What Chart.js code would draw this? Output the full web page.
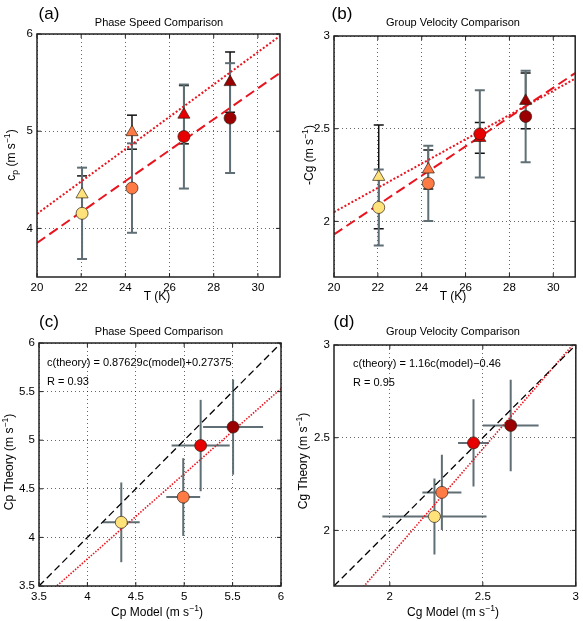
<!DOCTYPE html>
<html>
<head>
<meta charset="utf-8">
<script src="https://cdn.jsdelivr.net/npm/chart.js@4.4.1/dist/chart.umd.min.js"></script>
<style>
  body { margin: 0; background: #fff; }
  #wrap { position: relative; width: 583px; height: 621px; }
  canvas { position: absolute; }
</style>
</head>
<body>
<div id="wrap">
  <canvas id="pa" width="291" height="310" style="left:0;top:0"></canvas>
  <canvas id="pb" width="292" height="310" style="left:291px;top:0"></canvas>
  <canvas id="pc" width="291" height="311" style="left:0;top:310px"></canvas>
  <canvas id="pd" width="292" height="311" style="left:291px;top:310px"></canvas>
</div>
<script>
// temperatures of the four runs
const T = [22.04, 24.3, 26.65, 28.74];
const runColors = ["#FFE27A", "#FF7B45", "#E60000", "#9B0000"];

// phase speed
const cpTheory = [4.155, 4.415, 4.945, 5.135];
const cpTheoryErr = [0.47, 0.46, 0.535, 0.565];     // panel (a)
const cpTheoryErrC = [0.41, 0.40, 0.47, 0.49];      // panel (c)
const cpModel = [4.35, 4.99, 5.17, 5.505];
const cpModelErr = [0.19, 0.175, 0.30, 0.31];

// group velocity
const cgTheory = [2.075, 2.205, 2.472, 2.566];
const cgTheoryErr = [0.205, 0.203, 0.235, 0.247];
const cgModel = [2.24, 2.28, 2.45, 2.65];
const cgModelErr = [0.28, 0.105, 0.083, 0.15];

// curves vs T
const tCurve = [20, 31];
const cpTheoryCurve = [3.85, 5.60];
const cpModelCurve = [4.15, 5.98];
const cgTheoryCurve = [1.93, 2.80];
const cgModelCurve = [2.05, 2.77];

// one-to-one and fit lines
const oneC = [3.5, 6];
const fitCx = [3.5, 6];
const fitCy = [3.34, 5.53];
const oneD = [1.7, 3];
const fitDx = [1.7, 3];
const fitDy = [1.512, 3.02];

// tick labels
const tTicks = [20, 22, 24, 26, 28, 30];
const cpTicks = [4, 5, 6];
const cgTicks = [2, 2.5, 3];
const cTicks = [3.5, 4, 4.5, 5, 5.5, 6];
const dTicks = [2, 2.5, 3];

const FONT = '"Liberation Sans", Arial, Helvetica, sans-serif';
const GRAY = "#5f6f75";
const RED = "#E8141E";
const EDGE = "rgba(45,30,20,0.85)";

function pts(xs, ys) {
  return xs.map((x, i) => ({ x: x, y: ys[i] }));
}

function vbars(xs, ys, errs, color, width, cap, order) {
  return xs.map((x, i) => ({
    data: [{ x: x, y: ys[i] - errs[i] }, { x: x, y: ys[i] + errs[i] }],
    showLine: true, borderColor: color, borderWidth: width,
    pointStyle: "line", pointRadius: cap, pointBorderColor: color,
    pointBorderWidth: width, order: order
  }));
}

function hbars(xs, ys, errs, color, width, order) {
  return xs.map((x, i) => ({
    data: [{ x: x - errs[i], y: ys[i] }, { x: x + errs[i], y: ys[i] }],
    showLine: true, borderColor: color, borderWidth: width,
    pointRadius: 0, order: order
  }));
}

function markers(xs, ys, style, radius, order) {
  return {
    data: pts(xs, ys), pointStyle: style, pointRadius: radius,
    pointBackgroundColor: runColors, pointBorderColor: EDGE,
    pointBorderWidth: 0.8, showLine: false, order: order
  };
}

function line(xs, ys, color, width, dash, order) {
  return {
    data: pts(xs, ys), showLine: true, borderColor: color, borderWidth: width,
    borderDash: dash, pointRadius: 0, order: order
  };
}

function axis(min, max, ticks, size) {
  return {
    type: "linear", min: min, max: max,
    afterBuildTicks: s => { s.ticks = ticks.map(v => ({ value: v })); },
    afterFit: s => { if (s.isHorizontal()) s.height = size; else s.width = size; },
    ticks: {
      callback: v => String(v), color: "#000", padding: 4,
      font: { family: FONT, size: 11.5 }, maxRotation: 0, autoSkip: false
    },
    grid: { color: "rgba(0,0,0,0.6)", lineWidth: 1, drawTicks: false },
    border: { display: false, dash: [1, 3] }
  };
}

// box around the plot and inward ticks
const frame = {
  id: "frame",
  afterDatasetsDraw(chart) {
    const ctx = chart.ctx, a = chart.chartArea;
    const xs = chart.scales.x, ys = chart.scales.y;
    ctx.save();
    ctx.strokeStyle = "#222";
    ctx.lineWidth = 1;
    ctx.beginPath();
    xs.ticks.forEach(t => {
      const p = xs.getPixelForValue(t.value);
      ctx.moveTo(p, a.bottom); ctx.lineTo(p, a.bottom - 4);
      ctx.moveTo(p, a.top); ctx.lineTo(p, a.top + 4);
    });
    ys.ticks.forEach(t => {
      const p = ys.getPixelForValue(t.value);
      ctx.moveTo(a.left, p); ctx.lineTo(a.left + 4, p);
      ctx.moveTo(a.right, p); ctx.lineTo(a.right - 4, p);
    });
    ctx.stroke();
    ctx.lineWidth = 1.5;
    ctx.strokeRect(a.left, a.top, a.right - a.left, a.bottom - a.top);
    ctx.restore();
  }
};

function rich(ctx, parts, x, y, size, rotate, align) {
  ctx.save();
  ctx.translate(x, y);
  if (rotate) ctx.rotate(-Math.PI / 2);
  const fontFor = p => ((p.sub || p.sup) ? size * 0.72 : size) + "px " + FONT;
  let total = 0;
  parts.forEach(p => { ctx.font = fontFor(p); total += ctx.measureText(p.t).width; });
  let cx = align === "left" ? 0 : -total / 2;
  ctx.textAlign = "left";
  ctx.textBaseline = "middle";
  ctx.fillStyle = "#000";
  parts.forEach(p => {
    ctx.font = fontFor(p);
    const dy = p.sub ? size * 0.3 : (p.sup ? -size * 0.38 : 0);
    ctx.fillText(p.t, cx, dy);
    cx += ctx.measureText(p.t).width;
  });
  ctx.restore();
}

function texts(items) {
  return {
    id: "texts",
    afterDraw(chart) {
      items.forEach(it => rich(chart.ctx, it.parts, it.x, it.y, it.size, it.rot, it.align));
    }
  };
}

const unit = [{ t: " (m s" }, { t: "\u22121", sup: true }, { t: ")" }];

function make(id, pad, yw, xh, xAxis, yAxis, datasets, labels) {
  new Chart(document.getElementById(id), {
    type: "scatter",
    data: { datasets: datasets },
    options: {
      responsive: false, animation: false, events: [],
      layout: { padding: { left: 0, bottom: 0, top: pad.top, right: pad.right } },
      plugins: { legend: { display: false }, tooltip: { enabled: false } },
      scales: { x: axis(xAxis[0], xAxis[1], xAxis[2], xh), y: axis(yAxis[0], yAxis[1], yAxis[2], yw) }
    },
    plugins: [frame, texts(labels)]
  });
}

// (a) phase speed vs T
make("pa", { top: 34, right: 11 }, 37, 33, [20, 31, tTicks], [3.5, 6, cpTicks], [
  ...vbars(T, cpModel, cpModelErr, "#111", 1.5, 5, 4),
  ...vbars(T, cpTheory, cpTheoryErr, GRAY, 2, 5, 3),
  line(tCurve, cpTheoryCurve, RED, 2, [10, 5], 2),
  line(tCurve, cpModelCurve, RED, 2, [2, 2], 2),
  markers(T, cpModel, "triangle", 7, 1),
  markers(T, cpTheory, "circle", 6, 0)
], [
  { parts: [{ t: "(a)" }], x: 49, y: 14, size: 17 },
  { parts: [{ t: "Phase Speed Comparison" }], x: 159, y: 23, size: 11 },
  { parts: [{ t: "c" }, { t: "p", sub: true }, ...unit], x: 12, y: 155, size: 12, rot: true },
  { parts: [{ t: "T (K)" }], x: 157, y: 297, size: 12 }
]);

// (b) group velocity vs T
make("pb", { top: 36, right: 7 }, 43, 33, [20, 31, tTicks], [1.7, 3, cgTicks], [
  ...vbars(T, cgModel, cgModelErr, "#111", 1.5, 5, 4),
  ...vbars(T, cgTheory, cgTheoryErr, GRAY, 2, 5, 3),
  line(tCurve, cgTheoryCurve, RED, 2, [10, 5], 2),
  line(tCurve, cgModelCurve, RED, 2, [2, 2], 2),
  markers(T, cgModel, "triangle", 7, 1),
  markers(T, cgTheory, "circle", 6, 0)
], [
  { parts: [{ t: "(b)" }], x: 51, y: 14, size: 17 },
  { parts: [{ t: "Group Velocity Comparison" }], x: 162, y: 23, size: 11 },
  { parts: [{ t: "-Cg" }, ...unit], x: 19, y: 155, size: 12, rot: true },
  { parts: [{ t: "T (K)" }], x: 162, y: 297, size: 12 }
]);

// (c) phase speed theory vs model
make("pc", { top: 33, right: 10 }, 39, 35, [3.5, 6, cTicks], [3.5, 6, cTicks], [
  ...hbars(cpModel, cpTheory, cpModelErr, GRAY, 2, 3),
  ...vbars(cpModel, cpTheory, cpTheoryErrC, GRAY, 2, 0, 3),
  line(oneC, oneC, "#000", 1.3, [7, 4], 2),
  line(fitCx, fitCy, RED, 1.6, [1.5, 1.5], 2),
  markers(cpModel, cpTheory, "circle", 6, 0)
], [
  { parts: [{ t: "(c)" }], x: 49, y: 12, size: 17 },
  { parts: [{ t: "Phase Speed Comparison" }], x: 159, y: 22, size: 11 },
  { parts: [{ t: "Cp Theory" }, ...unit], x: 10, y: 152, size: 12, rot: true },
  { parts: [{ t: "Cp Model" }, ...unit], x: 157, y: 303, size: 12 },
  { parts: [{ t: "c(theory) = 0.87629c(model)+0.27375" }], x: 47, y: 53, size: 11, align: "left" },
  { parts: [{ t: "R = 0.93" }], x: 47, y: 72, size: 11, align: "left" }
]);

// (d) group velocity theory vs model
make("pd", { top: 35, right: 7 }, 43, 35, [1.7, 3, dTicks], [1.7, 3, dTicks], [
  ...hbars(cgModel, cgTheory, cgModelErr, GRAY, 2, 3),
  ...vbars(cgModel, cgTheory, cgTheoryErr, GRAY, 2, 0, 3),
  line(oneD, oneD, "#000", 1.3, [7, 4], 2),
  line(fitDx, fitDy, RED, 1.6, [1.5, 1.5], 2),
  markers(cgModel, cgTheory, "circle", 6, 0)
], [
  { parts: [{ t: "(d)" }], x: 53, y: 12, size: 17 },
  { parts: [{ t: "Group Velocity Comparison" }], x: 162, y: 22, size: 11 },
  { parts: [{ t: "Cg Theory" }, ...unit], x: 13, y: 151, size: 12, rot: true },
  { parts: [{ t: "Cg Model" }, ...unit], x: 162, y: 303, size: 12 },
  { parts: [{ t: "c(theory) = 1.16c(model)\u22120.46" }], x: 62, y: 54, size: 11, align: "left" },
  { parts: [{ t: "R = 0.95" }], x: 62, y: 73, size: 11, align: "left" }
]);
</script>
</body>
</html>
